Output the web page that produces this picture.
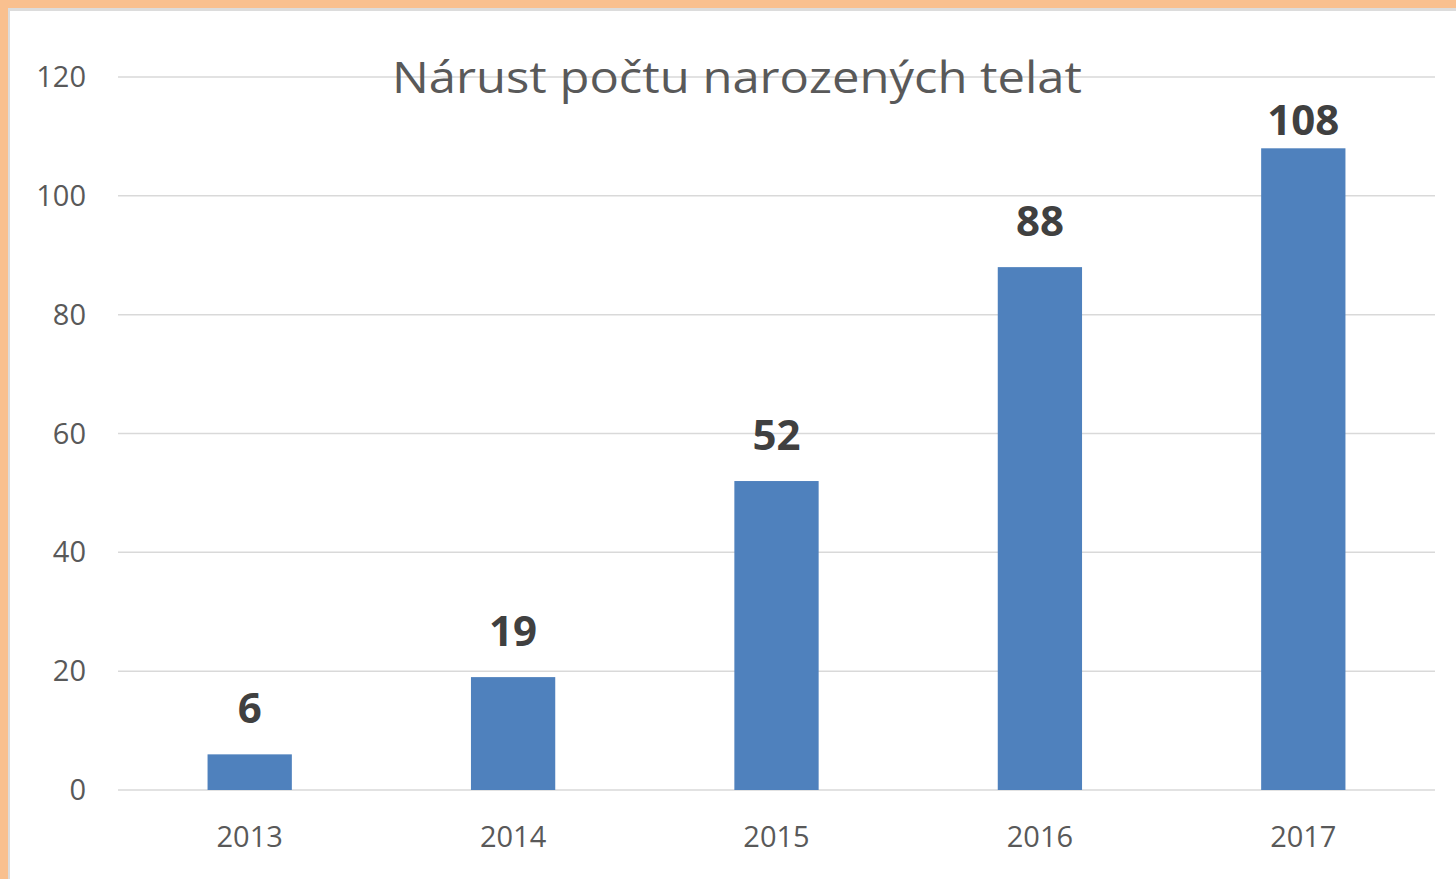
<!DOCTYPE html>
<html lang="cs">
  <head>
    <meta charset="UTF-8" />
    <title>Nárust počtu narozených telat</title>
    <script src="https://cdn.jsdelivr.net/npm/d3@7"></script>
    <style>
      html, body { margin: 0; padding: 0; background: #fff; }
      #chart svg { display: block; }
    </style>
  </head>
  <body>
    <div id="chart"></div>
    <script>
      const years = ['2013', '2014', '2015', '2016', '2017']
      const calves = [6, 19, 52, 88, 108]
      const yTicks = [0, 20, 40, 60, 80, 100, 120]
      const title = 'Nárust počtu narozených telat'

      const width = 1456
      const height = 879
      const margin = { top: 77, right: 21, bottom: 89, left: 118 }
      const font = "'Open Sans', 'Noto Sans', sans-serif"

      const svg = d3
        .select('#chart')
        .append('svg')
        .attr('width', width)
        .attr('height', height)

      // orange frame on the left and top, thin grey inner edge
      svg.append('rect').attr('width', width).attr('height', height).attr('fill', '#f9c08f')
      svg.append('rect').attr('x', 8).attr('y', 8).attr('width', width).attr('height', height).attr('fill', '#dcdcdc')
      svg.append('rect').attr('x', 10).attr('y', 11).attr('width', width).attr('height', height).attr('fill', '#fff')

      const x = d3
        .scaleBand()
        .domain(years)
        .range([margin.left, width - margin.right])
        .paddingInner(0.68)
        .paddingOuter(0.34)

      const y = d3
        .scaleLinear()
        .domain([0, 120])
        .range([height - margin.bottom, margin.top])

      // gridlines
      svg
        .append('g')
        .selectAll('line')
        .data(yTicks)
        .join('line')
        .attr('x1', margin.left)
        .attr('x2', width - margin.right)
        .attr('y1', d => y(d))
        .attr('y2', d => y(d))
        .attr('stroke', '#d9d9d9')
        .attr('stroke-width', 1.5)

      // y tick labels
      svg
        .append('g')
        .selectAll('text')
        .data(yTicks)
        .join('text')
        .attr('x', 86)
        .attr('y', d => y(d))
        .attr('dy', '0.35em')
        .attr('text-anchor', 'end')
        .attr('font-family', font)
        .attr('font-size', 29)
        .attr('fill', '#595959')
        .text(d => d)

      // bars
      svg
        .append('g')
        .selectAll('rect')
        .data(calves)
        .join('rect')
        .attr('x', (d, i) => x(years[i]))
        .attr('width', x.bandwidth())
        .attr('y', d => y(d))
        .attr('height', d => y(0) - y(d))
        .attr('fill', '#4f81bd')

      // value labels, kept inside the plot at the top like Excel does
      svg
        .append('g')
        .selectAll('text')
        .data(calves)
        .join('text')
        .attr('x', (d, i) => x(years[i]) + x.bandwidth() / 2)
        .attr('y', d => Math.max(y(d) - 31, 135))
        .attr('text-anchor', 'middle')
        .attr('font-family', font)
        .attr('font-weight', 'bold')
        .attr('font-size', 42)
        .attr('fill', '#404040')
        .text(d => d)

      // x labels
      svg
        .append('g')
        .selectAll('text')
        .data(years)
        .join('text')
        .attr('x', d => x(d) + x.bandwidth() / 2)
        .attr('y', 847)
        .attr('text-anchor', 'middle')
        .attr('font-family', font)
        .attr('font-size', 29)
        .attr('fill', '#595959')
        .text(d => d)

      svg
        .append('text')
        .attr('x', 737)
        .attr('y', 93)
        .attr('text-anchor', 'middle')
        .attr('font-family', font)
        .attr('font-size', 44)
        .attr('fill', '#595959')
        .attr('textLength', 690)
        .attr('lengthAdjust', 'spacingAndGlyphs')
        .text(title)
    </script>
  </body>
</html>
